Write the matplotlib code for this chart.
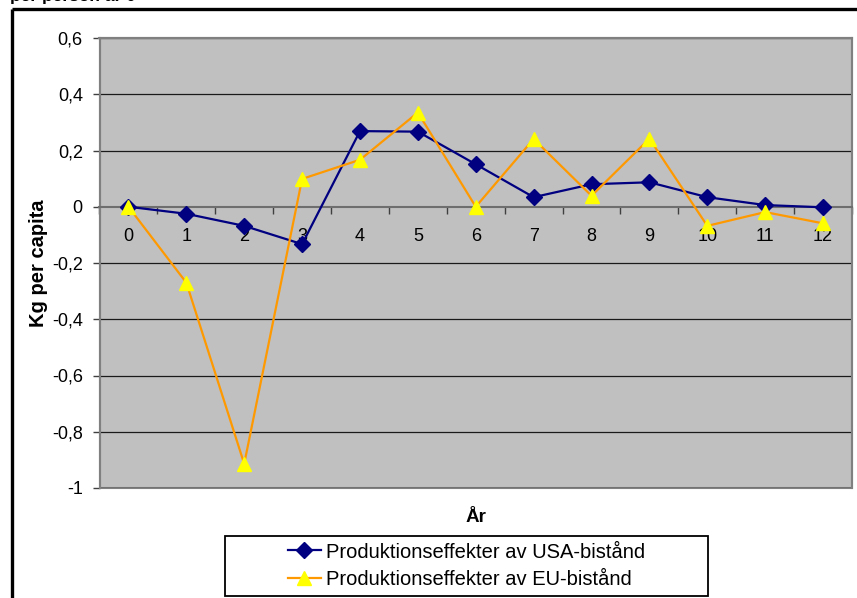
import matplotlib
matplotlib.use("Agg")
import matplotlib.pyplot as plt
from matplotlib.lines import Line2D
from matplotlib.patches import Rectangle
from matplotlib.ticker import FixedLocator, FuncFormatter

plt.rcParams['font.family'] = ['Liberation Sans', 'DejaVu Sans']

years = list(range(13))
usa_effect = [0.0, -0.025, -0.068, -0.133, 0.269, 0.267, 0.151, 0.034, 0.080, 0.087, 0.034, 0.006, -0.002]
eu_effect = [0.0, -0.270, -0.914, 0.099, 0.167, 0.335, 0.0, 0.241, 0.039, 0.242, -0.068, -0.019, -0.059]
usa_label = "Produktionseffekter av USA-bistånd"
eu_label = "Produktionseffekter av EU-bistånd"
y_ticks = [0.6, 0.4, 0.2, 0.0, -0.2, -0.4, -0.6, -0.8, -1.0]

W, H = 857, 598
fig = plt.figure(figsize=(W / 100, H / 100), dpi=100)


def fx(px):
    return px / W


def fy(py):
    return 1 - py / H


# outer chart frame (top and left edges)
fig.add_artist(Line2D([fx(11.5), 1.0], [fy(8.5), fy(8.5)], color='black', lw=2.4,
                      transform=fig.transFigure, solid_capstyle='butt'))
fig.add_artist(Line2D([fx(11.5), fx(11.5)], [fy(8.5), 0.0], color='black', lw=2.4,
                      transform=fig.transFigure, solid_capstyle='butt'))

# chart title (second line, mostly above the canvas)
fig.text(fx(10), fy(1.5), "per person år 0", fontsize=12.5, fontweight='bold',
         ha='left', va='baseline')

left, right, top, bottom = 99.5, 852, 38, 488
ax = fig.add_axes([fx(left), fy(bottom), fx(right) - fx(left), fy(top) - fy(bottom)])
ax.set_facecolor('#C0C0C0')

ax.set_xlim(-0.5, 12.5)
ax.set_ylim(-1.0, 0.6)

# horizontal gridlines
for v in y_ticks:
    if v != 0.0:
        ax.axhline(v, color='#1a1a1a', lw=0.9, zorder=1)

# plot-area border
for s in ['top', 'left', 'right']:
    ax.spines[s].set_color('#808080')
    ax.spines[s].set_linewidth(1.5)
ax.spines['bottom'].set_position(('data', 0))
ax.spines['bottom'].set_color('#6e6e6e')
ax.spines['bottom'].set_linewidth(1.5)
ax.add_patch(Rectangle((0, 0), 1, 1, transform=ax.transAxes, fill=False,
                       edgecolor='#808080', lw=1.5, zorder=0.5, clip_on=False))

# category axis: ticks between categories, labels at categories
ax.xaxis.set_major_locator(FixedLocator([i - 0.5 for i in range(14)]))
ax.xaxis.set_major_formatter(FuncFormatter(lambda v, p: ""))
ax.xaxis.set_minor_locator(FixedLocator(years))
ax.xaxis.set_minor_formatter(FuncFormatter(lambda v, p: str(int(round(v)))))
ax.tick_params(axis='x', which='major', direction='out', length=5, width=1, color='#404040')
ax.tick_params(axis='x', which='minor', length=0, pad=15, labelsize=13)

ax.yaxis.set_major_locator(FixedLocator(y_ticks))
ax.yaxis.set_major_formatter(FuncFormatter(
    lambda v, p: ("%g" % round(v, 1)).replace('.', ',')))
ax.tick_params(axis='y', direction='out', length=5, width=1, color='#404040',
               labelsize=13, pad=7)

ax.plot(years, usa_effect, color='#000080', lw=1.6, marker='D', ms=8,
        mfc='#000080', mec='#000080', zorder=3, label=usa_label, clip_on=False)
ax.plot(years, eu_effect, color='#FF9900', lw=1.6, marker='^', ms=9.5,
        mfc='#FFFF00', mec='#FFFF00', zorder=4, label=eu_label, clip_on=False)

fig.text(fx(38), fy(263), "Kg per capita", rotation=90, fontsize=14.5,
         fontweight='bold', ha='center', va='center')
fig.text(fx(476), fy(517), "År", fontsize=13.5, fontweight='bold',
         ha='center', va='center')

# legend box
lx0, lx1, ly0, ly1 = 225, 708, 536, 595.5
fig.add_artist(Rectangle((fx(lx0), fy(ly1)), fx(lx1) - fx(lx0), fy(ly0) - fy(ly1),
                         transform=fig.transFigure, fill=False, edgecolor='black', lw=1.3))
handles, labels = ax.get_legend_handles_labels()
fig.legend(handles, labels, loc='center',
           bbox_to_anchor=(fx((lx0 + lx1) / 2), fy((ly0 + ly1) / 2)),
           frameon=False, fontsize=14.5, handlelength=1.6, handletextpad=0.25,
           labelspacing=0.42, borderpad=0)

fig.savefig("out.png", dpi=100)
